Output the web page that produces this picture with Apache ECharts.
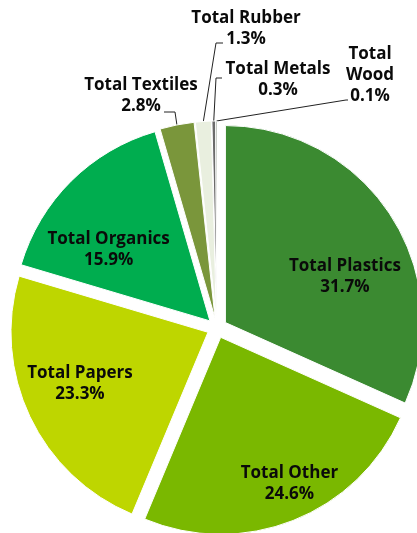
<!DOCTYPE html>
<html>
<head>
<meta charset="utf-8">
<style>
  html, body { margin: 0; padding: 0; background: #ffffff; }
  #chart { width: 417px; height: 533px; }
</style>
<script src="https://cdn.jsdelivr.net/npm/echarts@6/dist/echarts.min.js"></script>
</head>
<body>
<div id="chart"></div>
<script>
// Waste composition by material, share of total (%)
const categories = [
  'Total Plastics', 'Total Other', 'Total Papers', 'Total Organics',
  'Total Textiles', 'Total Rubber', 'Total Metals', 'Total Wood'
];
const shares = [31.7, 24.6, 23.3, 15.9, 2.8, 1.3, 0.3, 0.1];

const sliceColors = [
  '#3b8a31', '#7ab800', '#bed600', '#00ad4f',
  '#7a963b', '#e9efdf', '#6b6b6b', '#4a5a44'
];

// Labels that wrap the category name onto two lines
const wrappedNames = { 'Total Wood': 'Total\nWood' };

// Pie geometry: every slice is pushed out from the common centre by EXPLODE px
const CX = 217, CY = 328, R = 197, EXPLODE = 10;

// Inside labels: polar placement (degrees clockwise from 12 o'clock, fraction of radius)
const insideLabelSpots = {
  'Total Plastics': [68, 0.70],
  'Total Other': [155, 0.87],
  'Total Papers': [248, 0.75],
  'Total Organics': [306, 0.68]
};
// Outside labels: label centre and leader bend/end, relative to the pie centre
const outsideLabelSpots = {
  'Total Textiles': { label: [-76, -232], bend: [-42, -216], end: [-53, -216] },
  'Total Rubber':   { label: [29, -299], bend: [-1, -285], end: [6, -285] },
  'Total Metals':   { label: [61, -248], bend: [-1, -250], end: [5, -250] },
  'Total Wood':     { label: [153, -253], bend: [129, -228], end: [131, -228] }
};

const total = shares.reduce((a, b) => a + b, 0);
const rad = d => d * Math.PI / 180;
const polar = (deg, dist, ox = CX, oy = CY) =>
  [ox + dist * Math.sin(rad(deg)), oy - dist * Math.cos(rad(deg))];

const labelStyle = {
  fontFamily: 'Open Sans',
  fontWeight: 'bold',
  fontSize: 17,
  lineHeight: 21,
  color: '#0a0a0a',
  align: 'center'
};

// One pie series per slice so each can sit on its own exploded centre
let acc = 0;
const series = categories.map((name, i) => {
  const startDeg = acc / total * 360;
  const sweep = shares[i] / total * 360;
  const mid = startDeg + sweep / 2;
  acc += shares[i];
  const apex = polar(mid, EXPLODE);
  const isOutside = !!outsideLabelSpots[name];
  return {
    type: 'pie',
    name,
    center: apex,
    radius: R,
    startAngle: 90 - startDeg,
    clockwise: true,
    avoidLabelOverlap: false,
    silent: true,
    emphasis: { disabled: true },
    label: Object.assign({
      show: true,
      position: isOutside ? 'outside' : 'inside',
      formatter: p => (wrappedNames[p.name] || p.name) + '\n' + p.value.toFixed(1) + '%'
    }, labelStyle),
    labelLine: {
      show: isOutside,
      lineStyle: { color: '#222222', width: 1 }
    },
    labelLayout: params => {
      if (params.dataIndex !== 0) return {};
      if (!isOutside) {
        const [deg, frac] = insideLabelSpots[name];
        const p = polar(deg, frac * R);
        return { x: p[0], y: p[1], align: 'center', verticalAlign: 'middle' };
      }
      const spot = outsideLabelSpots[name];
      const edge = polar(mid, R, apex[0], apex[1]);
      return {
        x: CX + spot.label[0],
        y: CY + spot.label[1],
        align: 'center',
        verticalAlign: 'middle',
        labelLinePoints: [
          edge,
          [CX + spot.bend[0], CY + spot.bend[1]],
          [CX + spot.end[0], CY + spot.end[1]]
        ]
      };
    },
    data: [
      {
        name,
        value: shares[i],
        itemStyle: { color: sliceColors[i], borderColor: '#ffffff', borderWidth: 1 }
      },
      {
        name: '',
        value: total - shares[i],
        itemStyle: { color: 'rgba(0,0,0,0)', borderWidth: 0 },
        label: { show: false },
        labelLine: { show: false }
      }
    ]
  };
});

const chart = echarts.init(document.getElementById('chart'), null, { renderer: 'canvas' });
chart.setOption({
  animation: false,
  backgroundColor: '#ffffff',
  series
});
</script>
</body>
</html>
